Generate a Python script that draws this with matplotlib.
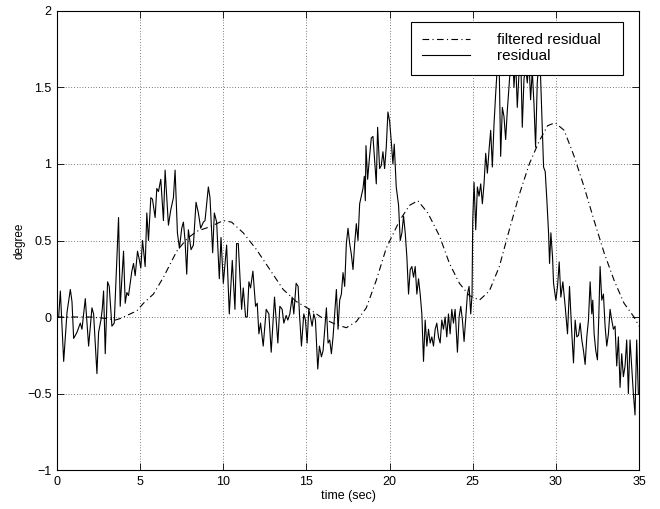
import matplotlib
matplotlib.use("Agg")
import matplotlib.pyplot as plt
import numpy as np

plt.rcParams['font.family'] = ['Liberation Sans', 'DejaVu Sans']

# residual
res_t = [0.0, 0.1, 0.2, 0.4, 0.6, 0.8, 0.9, 1.0, 1.2, 1.4, 1.5, 1.7, 1.9, 2.1, 2.2, 2.4, 2.5,
         2.64, 2.72, 2.8, 2.9, 3.04, 3.14, 3.3, 3.44, 3.7, 3.8, 4.0, 4.1, 4.2, 4.3, 4.5, 4.6,
         4.7, 4.84, 4.94, 5.04, 5.14, 5.2, 5.3, 5.4, 5.5, 5.64, 5.74, 5.9, 6.0, 6.1, 6.24, 6.4,
         6.5, 6.7, 6.84, 7.0, 7.1, 7.24, 7.36, 7.5, 7.6, 7.7, 7.8, 7.9, 8.06, 8.2, 8.36, 8.5,
         8.64, 8.8, 8.9, 9.1, 9.2, 9.36, 9.46, 9.6, 9.76, 9.86, 10.0, 10.2, 10.36,
         10.54, 10.7, 10.8, 10.9, 11.1, 11.2, 11.34, 11.44, 11.54, 11.64, 11.78, 11.94, 12.04,
         12.14, 12.24, 12.4, 12.58, 12.74, 12.88, 13.08, 13.28, 13.4, 13.54, 13.64, 13.78,
         13.88, 14.0, 14.14, 14.24, 14.38, 14.5, 14.58, 14.7, 14.84, 14.94, 15.04, 15.14,
         15.24, 15.34, 15.44, 15.54, 15.68, 15.78, 15.9, 16.0, 16.1, 16.2, 16.3, 16.4, 16.5,
         16.6, 16.7, 16.8, 16.9, 17.0, 17.1, 17.2, 17.3, 17.4, 17.5, 17.6, 17.7, 17.8, 17.9,
         18.0, 18.1, 18.2, 18.3, 18.4, 18.48, 18.54, 18.58, 18.68, 18.78, 18.9, 19.0, 19.1,
         19.2, 19.28, 19.4, 19.5, 19.6, 19.7, 19.8, 19.9, 20.0, 20.1, 20.2, 20.28, 20.4,
         20.54, 20.64, 20.74, 20.84, 20.94, 21.04, 21.14, 21.24, 21.34, 21.44, 21.54, 21.64,
         21.74, 21.84, 21.94, 22.04, 22.14, 22.24, 22.34, 22.44, 22.54, 22.64, 22.74, 22.84,
         22.94, 23.04, 23.14, 23.24, 23.34, 23.44, 23.54, 23.64, 23.74, 23.84, 23.94, 24.08,
         24.18, 24.28, 24.38, 24.48, 24.58, 24.68, 24.78, 24.88, 24.96, 25.0, 25.08, 25.18,
         25.28, 25.38, 25.48, 25.58, 25.68, 25.78, 25.88, 25.98, 26.08, 26.18, 26.28, 26.38,
         26.48, 26.58, 26.68, 26.78, 26.88, 26.98, 27.08, 27.18, 27.28, 27.38, 27.48, 27.58,
         27.68, 27.78, 27.88, 27.98, 28.08, 28.18, 28.28, 28.38, 28.48, 28.58, 28.68, 28.78,
         28.88, 28.98, 29.08, 29.18, 29.26, 29.36, 29.46, 29.56, 29.62, 29.7, 29.8, 29.86,
         30.0, 30.1, 30.2, 30.3, 30.42, 30.56, 30.7, 30.82, 30.96, 31.06, 31.16, 31.26, 31.36,
         31.46, 31.56, 31.66, 31.76, 31.86, 31.96, 32.06, 32.16, 32.22, 32.3, 32.4, 32.5,
         32.58, 32.66, 32.76, 32.86, 32.96, 33.06, 33.16, 33.26, 33.36, 33.46, 33.56, 33.66,
         33.76, 33.86, 33.96, 34.06, 34.16, 34.26, 34.36, 34.46, 34.56, 34.66, 34.76, 34.86,
         34.96]
res_v = [0.0, 0.0, 0.17, -0.29, 0.03, 0.18, 0.10, -0.14, -0.10, -0.04, -0.08, 0.12, -0.19, 0.06,
         0.02, -0.37, -0.10, -0.02, 0.05, 0.17, -0.24, 0.23, 0.20, -0.06, -0.04, 0.65, 0.07,
         0.43, 0.09, 0.16, 0.14, 0.30, 0.35, 0.27, 0.43, 0.38, 0.32, 0.50, 0.44, 0.33, 0.68,
         0.50, 0.78, 0.77, 0.65, 0.84, 0.82, 0.90, 0.63, 0.96, 0.60, 0.70, 0.78, 0.96, 0.55,
         0.45, 0.58, 0.62, 0.50, 0.28, 0.57, 0.44, 0.47, 0.75, 0.68, 0.58, 0.62, 0.63, 0.85,
         0.78, 0.42, 0.68, 0.62, 0.25, 0.52, 0.22, 0.47, 0.02,
         0.37, 0.05, 0.48, 0.48, 0.05, 0.19, 0.0, 0.0, 0.23, 0.19, 0.30, 0.07, 0.09,
         -0.11, -0.04, -0.19, 0.05, 0.02, -0.23, 0.13, -0.17, 0.07, 0.05, -0.04, 0.01,
         -0.02, 0.02, 0.13, 0.02, 0.22, 0.20, 0.02, -0.19, 0.02, -0.02, -0.17, 0.05,
         0.0, -0.06, 0.02, -0.02, -0.34, -0.19, -0.26, -0.22, -0.08, 0.06, -0.17, -0.15, -0.24,
         -0.13, 0.02, 0.18, -0.08, 0.11, 0.15, 0.29, 0.20, 0.48, 0.58, 0.48, 0.41, 0.31, 0.48,
         0.61, 0.50, 0.74, 0.79, 0.84, 0.92, 0.76, 1.12, 0.90, 1.03, 1.17, 1.18, 1.03,
         0.87, 1.24, 0.97, 0.99, 1.08, 0.97, 1.11, 1.34, 1.28, 1.15, 1.0, 1.13, 0.85,
         0.73, 0.50, 0.55, 0.66, 0.55, 0.39, 0.15, 0.31, 0.33, 0.26, 0.33, 0.15,
         0.25, 0.15, 0.02, -0.29, -0.02, -0.19, -0.08, -0.17, -0.13, -0.19, -0.08, -0.04,
         -0.13, -0.17, -0.02, -0.08, 0.0, -0.13, 0.02, -0.11, 0.05, -0.04, 0.05, -0.23,
         0.0, 0.07, -0.02, -0.16, 0.0, 0.15, 0.20, 0.02, 0.15, 0.63, 0.88, 0.57,
         0.85, 0.79, 0.87, 0.74, 0.87, 1.07, 0.94, 1.09, 1.22, 0.98, 1.26, 1.46,
         1.64, 1.72, 1.05, 1.37, 1.31, 1.16, 1.35, 1.50, 1.66, 1.81, 1.50, 1.68,
         1.37, 1.59, 1.74, 1.24, 1.55, 1.64, 1.53, 1.68, 1.42, 1.61, 1.40, 1.11,
         1.53, 1.68, 1.57, 1.24, 0.98, 0.95, 0.76, 0.55, 0.35, 0.55, 0.39, 0.22,
         0.11, 0.20, 0.36, 0.13, 0.23, 0.07, -0.11, 0.20, -0.11, -0.30, -0.02, -0.13, -0.12,
         -0.04, -0.15, -0.22, -0.31, -0.13, -0.02, 0.23, 0.02, 0.11, -0.11, -0.22, -0.28,
         0.0, 0.33, 0.11, 0.15, -0.06, -0.19, -0.11, 0.05, -0.02, -0.08, -0.06, -0.32,
         -0.13, -0.46, -0.24, -0.39, -0.32, -0.15, -0.50, -0.15, -0.32, -0.50, -0.64, -0.15,
         -0.50]

# filtered residual
filt_t = [0, 1, 2, 3, 3.5, 3.8, 4.8, 5.2, 5.8, 6.4, 7.2, 7.8, 8.4, 9.2, 10.0, 10.5, 11.2, 12.0,
          12.8, 13.6, 14.4, 15.2, 16.0, 16.8, 17.4, 18.0, 18.6, 19.2, 19.8, 20.6, 21.2, 21.7,
          22.3, 23.0, 23.6, 24.2, 24.8, 25.4, 26.0, 26.6, 27.2, 27.8, 28.4, 29.0, 29.5, 29.95,
          30.5, 31.1, 31.7, 32.3, 32.9, 33.5, 34.1, 34.7, 35.0]
filt_v = [0, 0, 0, -0.01, -0.02, -0.01, 0.04, 0.09, 0.15, 0.26, 0.43, 0.51, 0.56, 0.59, 0.63,
          0.62, 0.55, 0.44, 0.31, 0.18, 0.10, 0.05, -0.01, -0.05, -0.07, -0.03, 0.06, 0.24,
          0.45, 0.63, 0.73, 0.76, 0.68, 0.53, 0.35, 0.22, 0.14, 0.11, 0.17, 0.33, 0.57, 0.80,
          1.00, 1.15, 1.25, 1.27, 1.22, 1.05, 0.85, 0.63, 0.42, 0.24, 0.09, 0.0, -0.06]

x_ticks = [0, 5, 10, 15, 20, 25, 30, 35]
y_ticks = [-1, -0.5, 0, 0.5, 1, 1.5, 2]
y_labels = ['\u22121', '\u22120.5', '0', '0.5', '1', '1.5', '2']

fig = plt.figure(figsize=(6.6, 5.09), dpi=100)
ax = fig.add_axes([0.0864, 0.0766, 0.8818, 0.9018])

ax.plot(filt_t, filt_v, color='black', lw=0.8, linestyle=(0, (6, 3, 1, 3)), label='filtered residual')
ax.plot(res_t, res_v, color='black', lw=0.8, label='residual')

ax.set_xlim(0, 35)
ax.set_ylim(-1, 2)
ax.set_xticks(x_ticks)
ax.set_yticks(y_ticks)
ax.set_yticklabels(y_labels)
ax.tick_params(direction='in', length=5, width=0.6, top=True, right=True, labelsize=9, pad=4)
ax.grid(True, color='black', linestyle=(0, (1, 3)), lw=0.5)
for s in ax.spines.values():
    s.set_linewidth(0.8)

ax.set_xlabel('time (sec)', fontsize=9, labelpad=2)
ax.set_ylabel('degree', fontsize=8.5, labelpad=1)

leg = ax.legend(loc='upper left', bbox_to_anchor=(0.608, 0.863, 0.365, 0.113), mode='expand',
                borderaxespad=0, fancybox=False, framealpha=1, edgecolor='black',
                fontsize=11, handlelength=3.1, handletextpad=1.8, labelspacing=0.12,
                borderpad=0.75)
leg.get_frame().set_linewidth(0.8)

fig.savefig('out.png', dpi=100)
